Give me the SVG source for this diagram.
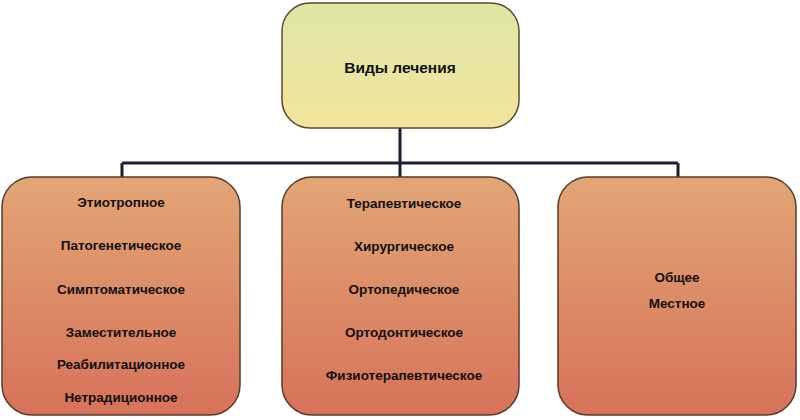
<svg xmlns="http://www.w3.org/2000/svg" width="800" height="420" viewBox="0 0 800 420">
<defs>
<linearGradient id="gt" x1="0" y1="0" x2="0" y2="1"><stop offset="0" stop-color="#dfe6a6"/><stop offset="1" stop-color="#f1e59c"/></linearGradient>
<linearGradient id="gb" x1="0" y1="0" x2="0" y2="1"><stop offset="0" stop-color="#e2a675"/><stop offset="1" stop-color="#d7725a"/></linearGradient>
<style>
.top{fill:url(#gt);stroke:#5a4a30;stroke-width:1.5}
.box{fill:url(#gb);stroke:#5a3a28;stroke-width:1.5}
text{font-family:"Liberation Sans",Arial,sans-serif;font-weight:bold;font-size:13.5px;fill:#111;text-anchor:middle}
.con{stroke:#1a2035;stroke-width:3;fill:none}
</style>
</defs>
<g id="connectors">
<path class="con" d="M400 128V177M122 163H678M122 163V178M678 163V178"/>
</g>
<g id="root"><rect class="top" x="282" y="3" width="237" height="125" rx="28"/><text x="400" y="73" font-size="15.5" style="font-size:15.5px">Виды  лечения</text></g>
<g id="left"><rect class="box" x="2" y="177" width="238" height="238" rx="30"/>
<text x="121" y="207">Этиотропное</text><text x="121" y="250">Патогенетическое</text><text x="121" y="294">Симптоматическое</text><text x="121" y="337">Заместительное</text><text x="121" y="369">Реабилитационное</text><text x="121" y="402">Нетрадиционное</text></g>
<g id="mid"><rect class="box" x="282" y="177" width="237" height="238" rx="30"/>
<text x="404" y="208">Терапевтическое</text><text x="404" y="251">Хирургическое</text><text x="404" y="294">Ортопедическое</text><text x="404" y="337">Ортодонтическое</text><text x="404" y="380">Физиотерапевтическое</text></g>
<g id="right"><rect class="box" x="558" y="177" width="238" height="238" rx="30"/>
<text x="677" y="282">Общее</text><text x="677" y="308">Местное</text></g>
</svg>
